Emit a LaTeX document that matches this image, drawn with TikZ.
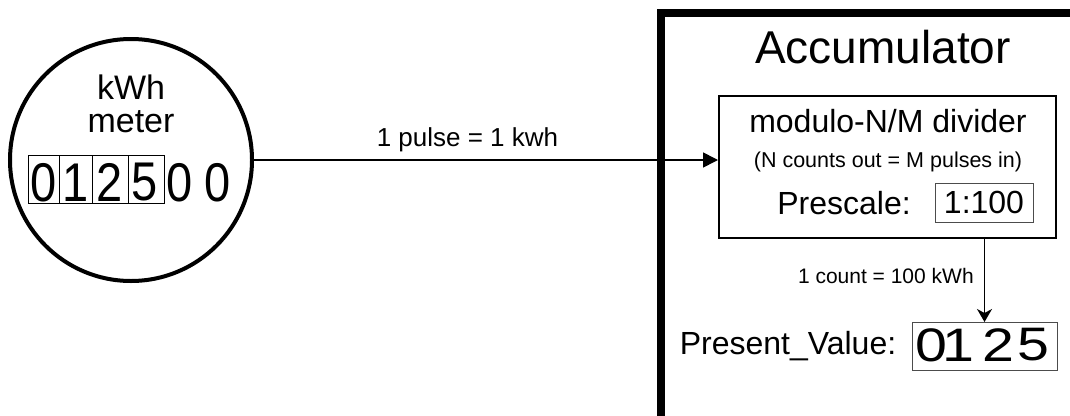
\documentclass[tikz,border=0pt]{standalone}
\usepackage{fontspec}
\setmainfont{Liberation Sans}
\usetikzlibrary{arrows.meta}
\newcommand{\fs}[1]{\fontsize{#1}{#1}\selectfont}
\newcommand{\mdig}[1]{\scalebox{1}[1.16]{#1}}
\newcommand{\pdig}[1]{\scalebox{1.22}[1]{#1}}
\tikzset{
  txt/.style={inner sep=0pt, outer sep=0pt},
  cell/.style={draw=black, line width=1pt, minimum height=48pt, inner sep=0pt, outer sep=0pt, anchor=west},
  mdigit/.style={inner sep=0pt, outer sep=0pt, font=\fs{47}},
  valbox/.style={draw=black!70, line width=1pt, inner sep=0pt, outer sep=0pt},
  conn/.style={line width=1.6pt},
}
\begin{document}
\begin{tikzpicture}[x=1pt,y=-1pt]
\useasboundingbox (0,0) rectangle (1070,415);
\clip (0,0) rectangle (1070,415);
% meter
\node[circle, draw, line width=4pt, minimum size=242pt, inner sep=0pt] (meter) at (131,160) {};
\node[txt, font=\fs{34}] (kwh) at (131,87) {kWh};
\node[txt, font=\fs{34}] (mtr) at (131,122) {meter};
\node[cell, minimum width=31pt] (c1) at (28,179) {};
\node[cell, minimum width=33pt] (c2) at (c1.east) {};
\node[cell, minimum width=36pt] (c3) at (c2.east) {};
\node[cell, minimum width=36pt] (c4) at (c3.east) {};
\node[mdigit] (d1) at (44,182.5) {\mdig{0}};
\node[mdigit] (d2) at (76,182.5) {\mdig{1}};
\node[mdigit] (d3) at (110,182.5) {\mdig{2}};
\node[mdigit] (d4) at (145,182.5) {\mdig{5}};
\node[mdigit] (d5) at (180,182.5) {\mdig{0}};
\node[mdigit] (d6) at (217.5,182.5) {\mdig{0}};
% accumulator
\draw[line width=8pt] (661,430) -- (661,12.5) -- (1080,12.5);
\node[txt, font=\fs{46}] (acc) at (883,47) {Accumulator};
\node[draw, line width=2pt, minimum width=337pt, minimum height=142pt, inner sep=0pt] (div) at (887.5,167) {};
\node[txt, font=\fs{32}] (modt) at (888,121) {modulo-N/M divider};
\node[txt, font=\fs{21.5}] (modn) at (888,162) {(N counts out = M pulses in)};
\node[txt, font=\fs{32}] (pre) at (844,203) {Prescale:};
\node[valbox, minimum width=98pt, minimum height=39pt, font=\fs{32}] (prev) at (984,202.5) {1:100};
\node[valbox, minimum width=145pt, minimum height=48pt] (pv) at (984.5,346) {};
\node[mdigit] (p0) at (931.5,345) {\pdig{0}};
\node[mdigit] (p1) at (958,345) {\pdig{1}};
\node[mdigit] (p2) at (998.5,345) {\pdig{2}};
\node[mdigit] (p5) at (1033.5,345) {\pdig{5}};
\node[txt, font=\fs{32}] (pvl) at (788,346) {Present\_Value:};
% connectors
\draw[conn, -{Triangle[length=15pt,width=15pt]}] (meter.east) -- (meter.east -| div.west)
  node[pos=0.46, above=7.5pt, font=\fs{26}, inner sep=0pt] {1 pulse = 1 kwh};
\draw[conn, -{Stealth[length=13pt,width=15pt,inset=4pt]}] (pv.north |- div.south) -- (pv.north)
  node[pos=0.45, left=10pt, font=\fs{21}, inner sep=0pt] {1 count = 100 kWh};
\end{tikzpicture}
\end{document}
